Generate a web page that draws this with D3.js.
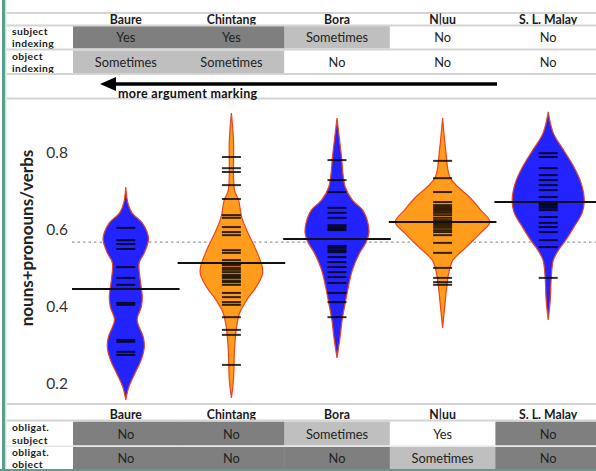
<!DOCTYPE html>
<html><head><meta charset="utf-8">
<script src="https://cdn.jsdelivr.net/npm/d3@7"></script>
<style>
html,body{margin:0;padding:0;background:#fff;}
svg{display:block;font-family:Lato,"Open Sans",sans-serif;}
</style></head>
<body>
<svg id="chart" width="596" height="471"></svg>
<script>
// ---------------- data ----------------
const languages = ["Baure", "Chintang", "Bora", "N|uu", "S. L. Malay"];
const subjectIndexing = ["Yes", "Yes", "Sometimes", "No", "No"];
const objectIndexing = ["Sometimes", "Sometimes", "No", "No", "No"];
const obligSubject = ["No", "No", "Sometimes", "Yes", "No"];
const obligObject = ["No", "No", "No", "Sometimes", "No"];
const yTicks = [0.2, 0.4, 0.6, 0.8];
const means = [0.444, 0.512, 0.574, 0.618, 0.670];
const grandMean = 0.566;

// density outlines [value, density]
const baureDensity = [[0.709,0],[0.668,0.2],[0.642,0.6],[0.616,1.6],[0.590,2.1],[0.571,2.2],[0.538,1.8],[0.512,1.3],[0.468,1.4],[0.423,1.6],[0.397,1.5],[0.364,1.1],[0.319,1.7],[0.294,1.8],[0.260,1.5],[0.226,0.9],[0.190,0.3],[0.156,0]];
const chintangDensity = [[0.901,0],[0.831,0.2],[0.701,0.3],[0.675,0.7],[0.631,1.0],[0.590,1.6],[0.545,2.4],[0.501,3.0],[0.481,3.0],[0.449,2.4],[0.416,1.5],[0.382,0.8],[0.345,0.5],[0.286,0.3],[0.208,0.2],[0.161,0]];
const boraDensity = [[0.888,0],[0.797,0.4],[0.709,0.8],[0.675,1.5],[0.649,2.5],[0.616,3.0],[0.590,3.1],[0.564,2.8],[0.538,2.2],[0.494,1.5],[0.449,1.1],[0.408,0.8],[0.364,0.5],[0.319,0.3],[0.265,0]];
const nuuDensity = [[0.888,0],[0.805,0.3],[0.735,0.7],[0.709,1.5],[0.683,2.6],[0.649,3.7],[0.618,4.6],[0.590,3.7],[0.553,2.3],[0.519,1.0],[0.486,0.6],[0.449,0.4],[0.397,0.2],[0.343,0]];
const malayDensity = [[0.904,0],[0.849,0.5],[0.805,1.5],[0.761,2.5],[0.719,3.2],[0.675,3.5],[0.642,3.3],[0.605,2.5],[0.571,1.7],[0.545,1.0],[0.519,0.5],[0.475,0.3],[0.416,0.2],[0.364,0]];

// individual observations
const baureObs = [0.603,0.571,0.561,0.548,0.501,0.473,0.455,0.408,0.403,0.312,0.307,0.281,0.273];
const chintangObs = [0.787,0.758,0.748,0.714,0.678,0.636,0.629,0.605,0.592,0.584,0.545,0.538,0.519,0.510,0.506,0.499,0.494,0.488,0.481,0.477,0.473,0.466,0.462,0.455,0.434,0.423,0.410,0.403,0.371,0.338,0.325,0.247];
const boraObs = [0.779,0.727,0.696,0.655,0.642,0.629,0.610,0.605,0.600,0.597,0.556,0.551,0.545,0.540,0.527,0.514,0.501,0.488,0.475,0.460,0.434,0.410,0.371];
const nuuObs = [0.777,0.732,0.696,0.670,0.662,0.657,0.652,0.647,0.642,0.636,0.629,0.623,0.618,0.613,0.608,0.603,0.597,0.592,0.584,0.564,0.538,0.499,0.473,0.462,0.455];
const malayObs = [0.797,0.787,0.758,0.740,0.727,0.714,0.701,0.683,0.670,0.665,0.660,0.655,0.649,0.631,0.616,0.605,0.592,0.571,0.553,0.473];

const densities = [baureDensity, chintangDensity, boraDensity, nuuDensity, malayDensity];
const observations = [baureObs, chintangObs, boraObs, nuuObs, malayObs];

// ---------------- drawing ----------------
const svg = d3.select("#chart");
const W = 596, H = 471;
const x = d3.scaleBand().domain(languages).range([73, 601]).padding(0);
const y = d3.scaleLinear().domain([0.2, 0.8]).range([383, 152]);
const w = d3.scaleLinear().domain([0, 1]).range([0, 10.3]);
const beanColor = d3.scaleOrdinal().domain(languages).range(["#2323ff", "#ff9c1c", "#2323ff", "#ff9c1c", "#2323ff"]);
const topShade = {Yes: "#7f7f7f", Sometimes: "#bfbfbf", No: "#ffffff"};
const bottomShade = {No: "#7f7f7f", Sometimes: "#bfbfbf", Yes: "#ffffff"};
const lineGray = "#d4d4d4";

svg.append("rect").attr("width", W).attr("height", H).attr("fill", "#fff");

function hline(yy, x0 = 7, x1 = W, col = lineGray, sw = 2) {
  svg.append("line").attr("x1", x0).attr("x2", x1).attr("y1", yy).attr("y2", yy)
    .attr("stroke", col).attr("stroke-width", sw);
}

function drawTable(rows, headerY, shade) {
  svg.append("g").selectAll("text").data(languages).join("text")
    .attr("x", d => x(d) + x.bandwidth() / 2).attr("y", headerY)
    .attr("text-anchor", "middle").attr("dominant-baseline", "central")
    .attr("font-size", 12.3).attr("font-weight", 700).attr("fill", "#1a1a1a")
    .text(d => d);
  rows.forEach(r => {
    const g = svg.append("g");
    g.selectAll("rect").data(r.values).join("rect")
      .attr("x", (d, i) => x(languages[i])).attr("y", r.y0)
      .attr("width", x.bandwidth() + 0.5).attr("height", r.y1 - r.y0)
      .attr("fill", d => shade[d]);
    g.selectAll("text.v").data(r.values).join("text").attr("class", "v")
      .attr("x", (d, i) => x(languages[i]) + x.bandwidth() / 2).attr("y", (r.y0 + r.y1) / 2)
      .attr("text-anchor", "middle").attr("dominant-baseline", "central")
      .attr("font-size", 12.8).attr("fill", "#222").text(d => d);
    r.label.forEach((t, k) => {
      g.append("text").attr("x", 12).attr("y", (r.y0 + r.y1) / 2 + (k - 0.5) * 12.2)
        .attr("dominant-baseline", "central")
        .attr("font-size", 10.3).attr("font-weight", 700).attr("fill", "#1a1a1a")
        .attr("letter-spacing", 0.4).text(t);
    });
  });
}

// top table
hline(13);
drawTable([
  {values: subjectIndexing, y0: 26, y1: 48.5, label: ["subject", "indexing"]},
  {values: objectIndexing, y0: 50.5, y1: 73, label: ["object", "indexing"]}
], 19.5, topShade);
hline(25.5); hline(49.5); hline(74); hline(98.5);

// arrow
svg.append("line").attr("x1", 110).attr("x2", 497).attr("y1", 84).attr("y2", 84)
  .attr("stroke", "#000").attr("stroke-width", 3.5);
svg.append("path").attr("d", "M100,84 L116,77 L116,91 Z").attr("fill", "#000");
svg.append("text").attr("x", 118).attr("y", 93.5).attr("dominant-baseline", "central")
  .attr("font-size", 12.5).attr("font-weight", 700).attr("fill", "#111")
  .attr("letter-spacing", 0.3).text("more argument marking");

// chart area
hline(404);
svg.append("g").selectAll("text").data(yTicks).join("text")
  .attr("x", 68).attr("y", d => y(d)).attr("text-anchor", "end").attr("dominant-baseline", "central")
  .attr("font-size", 15.5).attr("fill", "#333").text(d => d.toFixed(1));
svg.append("text").attr("transform", "translate(26,238) rotate(-90)")
  .attr("text-anchor", "middle").attr("dominant-baseline", "central")
  .attr("font-size", 17).attr("font-weight", 700).attr("fill", "#222")
  .text("nouns+pronouns/verbs");

// grand mean dotted line
svg.append("line").attr("x1", 72).attr("x2", W).attr("y1", y(grandMean)).attr("y2", y(grandMean))
  .attr("stroke", "#999").attr("stroke-width", 1.3).attr("stroke-dasharray", "2.5,3");

// beans
languages.forEach((lang, i) => {
  const cx = x(lang) + x.bandwidth() / 2;
  const area = d3.area().curve(d3.curveCatmullRom.alpha(0.5))
    .y(d => y(d[0])).x0(d => cx - w(d[1])).x1(d => cx + w(d[1]));
  svg.append("path").attr("d", area(densities[i]))
    .attr("fill", beanColor(lang)).attr("stroke", "#e8461e").attr("stroke-width", 1.2);
  svg.append("g").selectAll("line").data(observations[i]).join("line")
    .attr("x1", cx - 9.5).attr("x2", cx + 9.5)
    .attr("y1", d => y(d)).attr("y2", d => y(d))
    .attr("stroke", "#000").attr("stroke-opacity", 0.8).attr("stroke-width", 2);
  svg.append("line").attr("x1", x(lang) - 1).attr("x2", x(lang) + x.bandwidth() + 1)
    .attr("y1", y(means[i])).attr("y2", y(means[i]))
    .attr("stroke", "#111").attr("stroke-width", 2);
});

// bottom table
drawTable([
  {values: obligSubject, y0: 421.5, y1: 445.5, label: ["obligat.", "subject"]},
  {values: obligObject, y0: 447, y1: 469, label: ["obligat.", "object"]}
], 414.5, bottomShade);
hline(420.5); hline(446.2, 7, W, "#e6e6e6", 1.5);

// frame (teal)
svg.append("rect").attr("x", 2).attr("y", 0).attr("width", 3).attr("height", H).attr("fill", "#5a9e8c");
svg.append("rect").attr("x", 5).attr("y", 0).attr("width", 1.5).attr("height", H).attr("fill", "#cfe3dd");
svg.append("rect").attr("x", 0).attr("y", 469).attr("width", W).attr("height", 2).attr("fill", "#5a9e8c");
</script>
</body></html>
